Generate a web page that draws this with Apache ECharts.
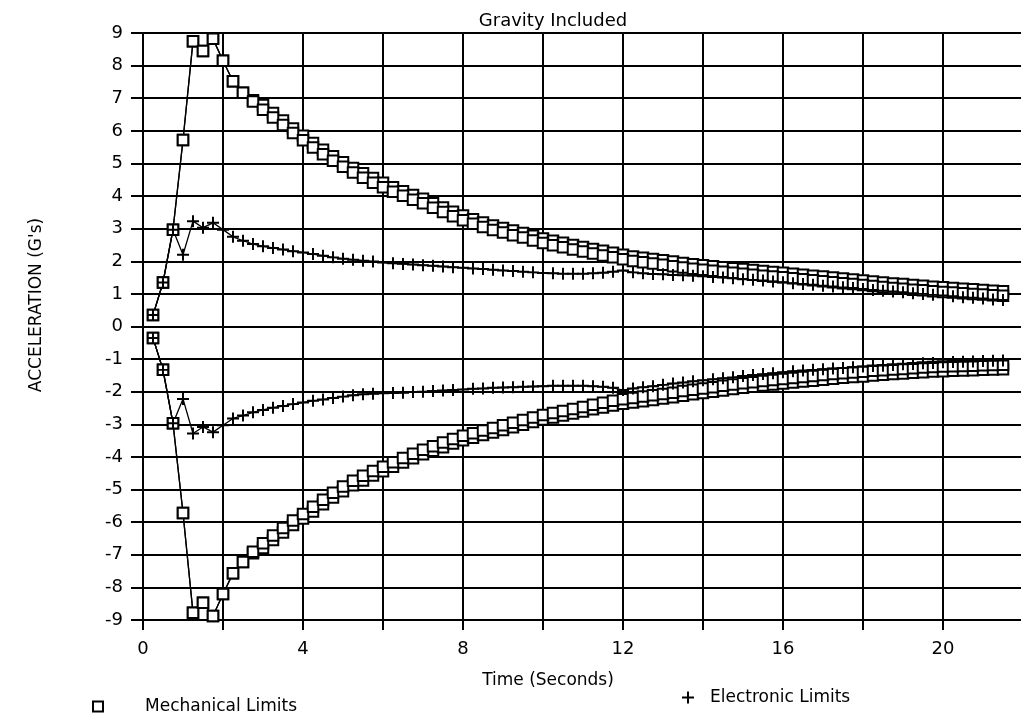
<!DOCTYPE html>
<html>
<head>
<meta charset="utf-8">
<script src="https://cdn.jsdelivr.net/npm/echarts/dist/echarts.min.js"></script>
<style>
  html, body { margin: 0; padding: 0; background: #fff; }
  #chart { width: 1021px; height: 727px; }
</style>
</head>
<body>
<div id="chart"></div>
<script>
// Sample times (s)
const timeSec = [
  0.25, 0.5, 0.75, 1.0, 1.25, 1.5, 1.75, 2.0,
  2.25, 2.5, 2.75, 3.0, 3.25, 3.5, 3.75, 4.0,
  4.25, 4.5, 4.75, 5.0, 5.25, 5.5, 5.75, 6.0,
  6.25, 6.5, 6.75, 7.0, 7.25, 7.5, 7.75, 8.0,
  8.25, 8.5, 8.75, 9.0, 9.25, 9.5, 9.75, 10.0,
  10.25, 10.5, 10.75, 11.0, 11.25, 11.5, 11.75, 12.0,
  12.25, 12.5, 12.75, 13.0, 13.25, 13.5, 13.75, 14.0,
  14.25, 14.5, 14.75, 15.0, 15.25, 15.5, 15.75, 16.0,
  16.25, 16.5, 16.75, 17.0, 17.25, 17.5, 17.75, 18.0,
  18.25, 18.5, 18.75, 19.0, 19.25, 19.5, 19.75, 20.0,
  20.25, 20.5, 20.75, 21.0, 21.25, 21.5
];

// Mechanical limits, positive envelope (two traces)
const mechUpperA = [
  0.35, 1.35, 2.97, 5.72, 8.75, 8.45, 8.82, 8.15,
  7.52, 7.17, 6.94, 6.79, 6.55, 6.32, 6.07, 5.85,
  5.63, 5.42, 5.22, 5.04, 4.86, 4.70, 4.55, 4.41,
  4.27, 4.15, 4.03, 3.92, 3.78, 3.65, 3.52, 3.40,
  3.29, 3.19, 3.10, 3.02, 2.94, 2.87, 2.78, 2.70,
  2.63, 2.57, 2.50, 2.44, 2.38, 2.32, 2.26, 2.20,
  2.15, 2.11, 2.07, 2.03, 1.99, 1.95, 1.91, 1.88,
  1.85, 1.82, 1.79, 1.76, 1.73, 1.70, 1.67, 1.65,
  1.62, 1.59, 1.56, 1.53, 1.50, 1.47, 1.44, 1.41,
  1.38, 1.35, 1.32, 1.30, 1.27, 1.25, 1.22, 1.20,
  1.18, 1.16, 1.14, 1.12, 1.10, 1.08
];
const mechUpperB = [
  0.35, 1.35, 2.97, 5.72, 8.75, 8.45, 8.82, 8.15,
  7.52, 7.17, 6.90, 6.65, 6.41, 6.18, 5.93, 5.71,
  5.49, 5.28, 5.08, 4.90, 4.72, 4.56, 4.41, 4.27,
  4.13, 4.01, 3.89, 3.78, 3.64, 3.51, 3.38, 3.26,
  3.15, 3.05, 2.96, 2.88, 2.80, 2.73, 2.64, 2.56,
  2.49, 2.43, 2.36, 2.30, 2.24, 2.18, 2.12, 2.06,
  2.01, 1.97, 1.93, 1.89, 1.85, 1.81, 1.77, 1.74,
  1.71, 1.68, 1.65, 1.62, 1.59, 1.56, 1.53, 1.51,
  1.48, 1.45, 1.42, 1.39, 1.36, 1.33, 1.30, 1.27,
  1.24, 1.21, 1.18, 1.16, 1.13, 1.11, 1.08, 1.06,
  1.04, 1.02, 1.00, 0.98, 0.96, 0.94
];

// Mechanical limits, negative envelope (two traces)
const mechLowerA = [
  -0.35, -1.33, -2.97, -5.72, -8.78, -8.47, -8.88, -8.20,
  -7.57, -7.22, -6.95, -6.79, -6.55, -6.32, -6.09, -5.89,
  -5.67, -5.45, -5.24, -5.05, -4.87, -4.72, -4.57, -4.44,
  -4.30, -4.17, -4.04, -3.92, -3.81, -3.70, -3.59, -3.49,
  -3.41, -3.33, -3.25, -3.17, -3.09, -3.01, -2.93, -2.85,
  -2.79, -2.73, -2.67, -2.61, -2.54, -2.48, -2.42, -2.37,
  -2.33, -2.29, -2.25, -2.21, -2.17, -2.12, -2.08, -2.04,
  -2.00, -1.96, -1.92, -1.88, -1.85, -1.81, -1.78, -1.75,
  -1.72, -1.69, -1.66, -1.63, -1.60, -1.57, -1.55, -1.53,
  -1.50, -1.48, -1.46, -1.44, -1.42, -1.40, -1.38, -1.37,
  -1.36, -1.35, -1.34, -1.33, -1.32, -1.31
];
const mechLowerB = [
  -0.35, -1.33, -2.97, -5.72, -8.78, -8.47, -8.88, -8.20,
  -7.57, -7.22, -6.91, -6.65, -6.41, -6.18, -5.95, -5.75,
  -5.53, -5.31, -5.10, -4.91, -4.73, -4.58, -4.43, -4.30,
  -4.16, -4.03, -3.90, -3.78, -3.67, -3.56, -3.45, -3.35,
  -3.27, -3.19, -3.11, -3.03, -2.95, -2.87, -2.79, -2.71,
  -2.65, -2.59, -2.53, -2.47, -2.40, -2.34, -2.28, -2.23,
  -2.19, -2.15, -2.11, -2.07, -2.03, -1.98, -1.94, -1.90,
  -1.86, -1.82, -1.78, -1.74, -1.71, -1.67, -1.64, -1.61,
  -1.58, -1.55, -1.52, -1.49, -1.46, -1.43, -1.41, -1.39,
  -1.36, -1.34, -1.32, -1.30, -1.28, -1.26, -1.24, -1.23,
  -1.22, -1.21, -1.20, -1.19, -1.18, -1.17
];

// Electronic limits, positive and negative
const elecUpper = [
  0.35, 1.35, 2.97, 2.20, 3.23, 3.03, 3.18, 2.97,
  2.75, 2.63, 2.53, 2.46, 2.41, 2.36, 2.31, 2.27,
  2.22, 2.17, 2.12, 2.08, 2.05, 2.02, 1.99, 1.96,
  1.94, 1.92, 1.90, 1.88, 1.86, 1.84, 1.82, 1.80,
  1.78, 1.76, 1.74, 1.72, 1.70, 1.68, 1.66, 1.64,
  1.63, 1.62, 1.62, 1.62, 1.63, 1.65, 1.68, 1.72,
  1.66, 1.63, 1.61, 1.60, 1.58, 1.57, 1.56, 1.54,
  1.52, 1.50, 1.48, 1.45, 1.43, 1.41, 1.38, 1.36,
  1.33, 1.30, 1.28, 1.25, 1.23, 1.20, 1.18, 1.15,
  1.12, 1.10, 1.07, 1.05, 1.02, 1.00, 0.97, 0.95,
  0.93, 0.90, 0.88, 0.86, 0.83, 0.81
];
const elecLower = [
  -0.35, -1.33, -2.97, -2.22, -3.28, -3.08, -3.24, -3.03,
  -2.82, -2.73, -2.63, -2.56, -2.49, -2.44, -2.38, -2.33,
  -2.28, -2.24, -2.19, -2.15, -2.11, -2.08, -2.06, -2.05,
  -2.04, -2.03, -2.01, -2.00, -1.98, -1.96, -1.95, -1.93,
  -1.91, -1.90, -1.88, -1.87, -1.86, -1.85, -1.84, -1.83,
  -1.82, -1.82, -1.82, -1.82, -1.83, -1.85, -1.88, -1.95,
  -1.90, -1.86, -1.83, -1.79, -1.75, -1.72, -1.68, -1.65,
  -1.62, -1.59, -1.56, -1.52, -1.49, -1.46, -1.43, -1.40,
  -1.37, -1.35, -1.33, -1.31, -1.29, -1.27, -1.25, -1.23,
  -1.21, -1.20, -1.18, -1.16, -1.15, -1.13, -1.12, -1.10,
  -1.09, -1.08, -1.07, -1.06, -1.05, -1.04
];

// Labelled time ticks
const timeLabels = [0, 4, 8, 12, 16, 20];

const FONT = 'DejaVu Sans';
const MECH = 'Mechanical Limits';
const ELEC = 'Electronic Limits';
const PLUS = 'path://M4.6,0H6.4V4.6H11V6.4H6.4V11H4.6V6.4H0V4.6H4.6Z';

function pairs(values) {
  return timeSec.map((t, i) => [t, values[i]]);
}

function mechSeries(values) {
  return {
    name: MECH, type: 'line', data: pairs(values),
    symbol: 'emptyRect', symbolSize: 10.5,
    lineStyle: { color: '#000', width: 1.3 },
    itemStyle: { color: '#000', borderColor: '#000', borderWidth: 1.9 },
    silent: true, animation: false
  };
}

function elecSeries(values) {
  return {
    name: ELEC, type: 'line', data: pairs(values),
    symbol: PLUS, symbolSize: 12,
    lineStyle: { color: '#000', width: 1.3 },
    itemStyle: { color: '#000', borderWidth: 0 },
    silent: true, animation: false
  };
}

const chart = echarts.init(document.getElementById('chart'), null, { renderer: 'canvas' });

chart.setOption({
  backgroundColor: '#fff',
  animation: false,
  title: {
    text: 'Gravity Included',
    left: 548, top: 7, textAlign: 'center',
    textStyle: { fontFamily: FONT, fontSize: 18, fontWeight: 'normal', color: '#000' }
  },
  grid: { left: 143, top: 33, width: 880, height: 587, outerBoundsMode: 'none', containLabel: false },
  xAxis: {
    type: 'value', min: 0, max: 22, interval: 2,
    axisLine: { show: true, onZero: false, lineStyle: { color: '#000', width: 2 } },
    axisTick: { show: true, length: 10, lineStyle: { color: '#000', width: 2 } },
    splitLine: { show: true, lineStyle: { color: '#000', width: 2 } },
    axisLabel: {
      margin: 20, color: '#000', fontFamily: FONT, fontSize: 18,
      formatter: v => (timeLabels.indexOf(v) >= 0 ? String(v) : '')
    }
  },
  yAxis: {
    type: 'value', min: -9, max: 9, interval: 1,
    axisLine: { show: true, onZero: false, lineStyle: { color: '#000', width: 2 } },
    axisTick: { show: true, length: 12, lineStyle: { color: '#000', width: 2 } },
    splitLine: { show: true, lineStyle: { color: '#000', width: 2 } },
    axisLabel: { margin: 20, color: '#000', fontFamily: FONT, fontSize: 18 }
  },
  legend: [
    {
      data: [{ name: MECH, icon: 'rect', itemStyle: { color: '#fff', borderColor: '#000', borderWidth: 2 } }],
      left: 92, top: 698, padding: 0, itemWidth: 10, itemHeight: 10,
      selectedMode: false,
      textStyle: { fontFamily: FONT, fontSize: 17, color: '#000', padding: [0, 0, 0, 37] }
    },
    {
      data: [{ name: ELEC, icon: PLUS }],
      left: 682, top: 689, padding: 0, itemWidth: 12, itemHeight: 12,
      selectedMode: false,
      textStyle: { fontFamily: FONT, fontSize: 17, color: '#000', padding: [0, 0, 0, 11] }
    }
  ],
  graphic: [
    {
      type: 'text', x: 37, y: 305, rotation: Math.PI / 2,
      style: { text: "ACCELERATION (G's)", font: '17px "DejaVu Sans"', fill: '#000', align: 'center', verticalAlign: 'middle' }
    },
    {
      type: 'text', x: 548, y: 681,
      style: { text: 'Time (Seconds)', font: '17px "DejaVu Sans"', fill: '#000', align: 'center', verticalAlign: 'middle' }
    }
  ],
  series: [
    mechSeries(mechUpperA),
    mechSeries(mechUpperB),
    mechSeries(mechLowerA),
    mechSeries(mechLowerB),
    elecSeries(elecUpper),
    elecSeries(elecLower)
  ]
});
</script>
</body>
</html>
